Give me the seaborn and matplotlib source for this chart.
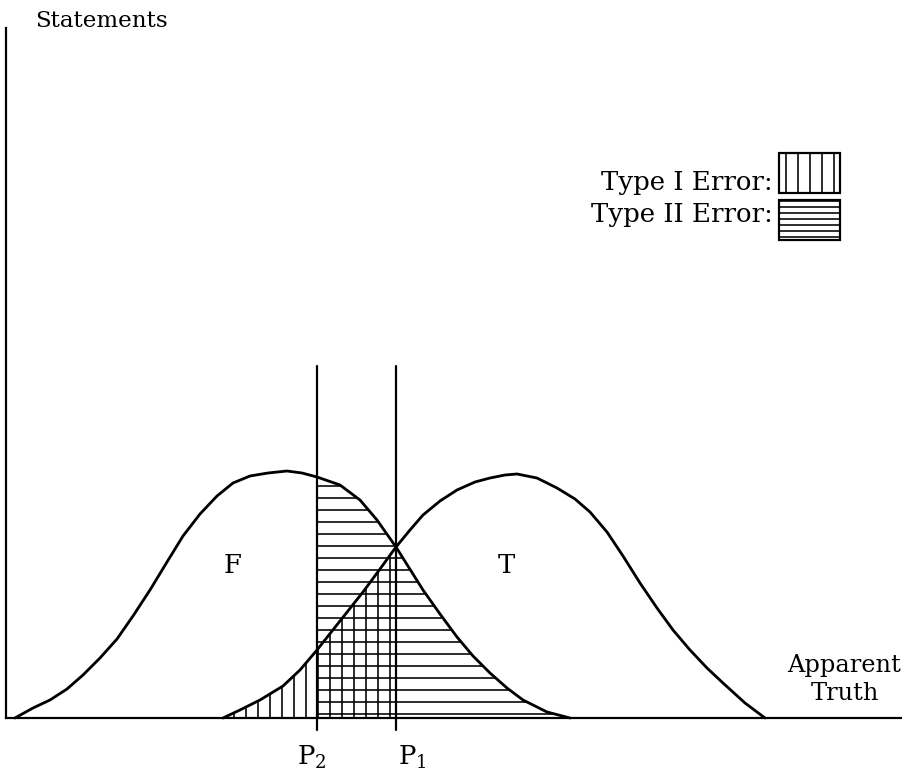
import numpy as np
import pandas as pd
import matplotlib
matplotlib.use("Agg")
import matplotlib.pyplot as plt
from matplotlib.patches import Rectangle
import seaborn as sns

# ---- data (x: apparent truth, y: number of statements) ----
f_x = [9, 27, 44, 61, 77, 94, 111, 127, 144, 161, 177, 194, 211, 227, 244, 262,
       281, 296, 311, 334, 354, 371, 390, 417, 434, 451, 467, 484, 501, 517, 541, 564]
f_y = [0, 10, 18, 29, 43, 60, 79, 102, 128, 156, 182, 204, 222, 235, 242, 245,
       247, 245, 241, 233, 218, 198, 171, 128, 104, 81, 62, 45, 30, 18, 6, 0]

t_x = [217, 234, 254, 277, 294, 311, 334, 357, 374, 390, 404, 417, 434, 451, 469,
       484, 499, 511, 531, 551, 569, 584, 601, 617, 634, 651, 667, 684, 701, 717,
       739, 759]
t_y = [0, 8, 18, 32, 48, 68, 97, 126, 149, 171, 188, 203, 217, 228, 236,
       240, 243, 244, 240, 230, 219, 206, 186, 162, 135, 110, 88, 68, 50, 35,
       15, 0]

p_labels = ["P$_2$", "P$_1$"]
p_positions = [311, 390]
curve_labels = ["F", "T"]
legend_labels = ["Type I Error:", "Type II Error:"]

# ---- style ----
sns.set_style("white")
plt.rcParams["font.family"] = ["DejaVu Serif"]
plt.rcParams["mathtext.fontset"] = "dejavuserif"
plt.rcParams["text.color"] = "black"
plt.rcParams["hatch.linewidth"] = 1.6
plt.rcParams["hatch.color"] = "black"

W, H, DPI = 902, 773, 72
fig = plt.figure(figsize=(W / DPI, H / DPI), dpi=DPI)
ax = fig.add_axes([6 / W, 55 / H, (W - 6) / W, (718 - 28) / H])
ax.set_xlim(0, W - 6)
ax.set_ylim(0, 690)

df_f = pd.DataFrame({"x": f_x, "y": f_y})
df_t = pd.DataFrame({"x": t_x, "y": t_y})
for df in (df_f, df_t):
    sns.lineplot(data=df, x="x", y="y", color="black", lw=2.8, estimator=None,
                 sort=False, ax=ax, clip_on=False, solid_joinstyle="round",
                 solid_capstyle="round")

fx = np.array(f_x); fy = np.array(f_y)
tx = np.array(t_x); ty = np.array(t_y)
p2, p1 = p_positions
# Type II error region (under F, right of P2)
m2 = fx >= p2
ax.fill_between(fx[m2], 0, fy[m2], facecolor="none", edgecolor="black",
                hatch="-", linewidth=0)
# Type I error region (under T, left of P1)
m1 = tx <= p1
ax.fill_between(tx[m1], 0, ty[m1], facecolor="none", edgecolor="black",
                hatch="|", linewidth=0)

# criterion lines
for xp in p_positions:
    ax.plot([xp, xp], [-12, 352], color="black", lw=2.2, clip_on=False)

# labels
txt = dict(color="black")
ax.text(305.5, -47, p_labels[0], fontsize=26, ha="center", va="baseline", **txt)
ax.text(406, -47, p_labels[1], fontsize=26, ha="center", va="baseline", **txt)
ax.text(227, 145, curve_labels[0], fontsize=26, ha="center", va="baseline", **txt)
ax.text(500, 145, curve_labels[1], fontsize=26, ha="center", va="baseline", **txt)
ax.text(838, 46, "Apparent", fontsize=24, ha="center", va="baseline", **txt)
ax.text(839, 18, "Truth", fontsize=24, ha="center", va="baseline", **txt)
ax.text(29, 691, "Statements", fontsize=23, ha="left", va="baseline", **txt)

# legend
ax.text(767, 528, legend_labels[0], fontsize=26, ha="right", va="baseline", **txt)
ax.text(767, 496, legend_labels[1], fontsize=26, ha="right", va="baseline", **txt)
ax.add_patch(Rectangle((773, 525), 61, 40, fill=False, edgecolor="black",
                       hatch="|", lw=2.2, clip_on=False))
ax.add_patch(Rectangle((773, 478), 61, 40, fill=False, edgecolor="black",
                       hatch="--", lw=2.2, clip_on=False))

# axes
sns.despine(ax=ax, top=True, right=True)
for s in ["left", "bottom"]:
    ax.spines[s].set_linewidth(2.2)
    ax.spines[s].set_color("black")
ax.set_xticks([]); ax.set_yticks([])
ax.set_xlabel(""); ax.set_ylabel("")

fig.savefig("out.png", dpi=DPI)
